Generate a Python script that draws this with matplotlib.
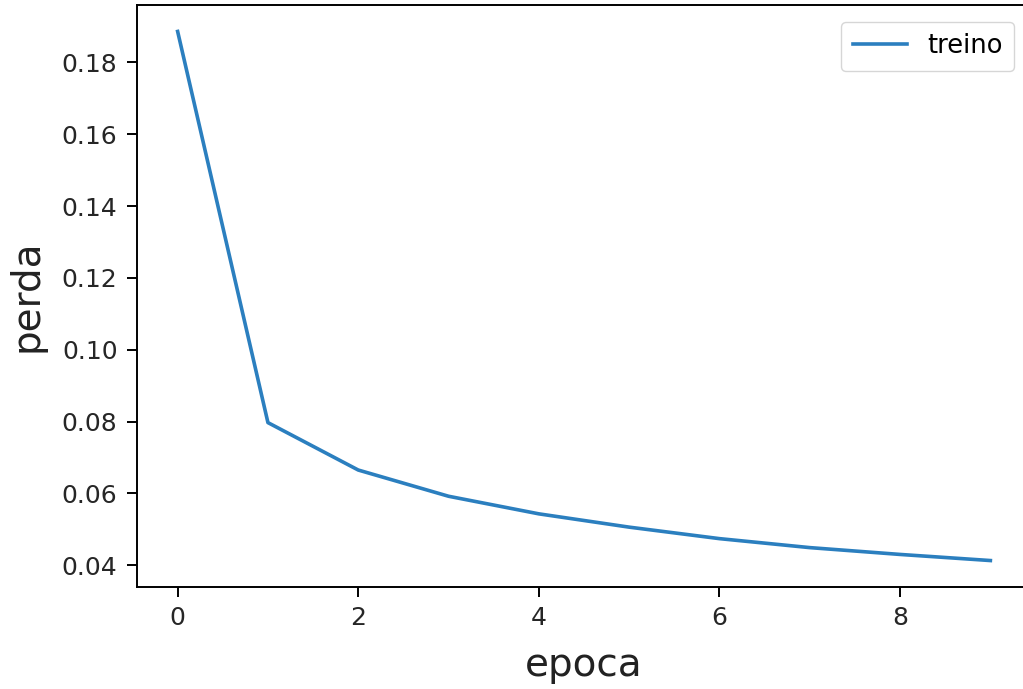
import matplotlib
matplotlib.use("Agg")
import matplotlib.pyplot as plt

epocas = list(range(10))
perda_treino = [0.1886, 0.0797, 0.0665, 0.0592, 0.0543, 0.0506, 0.0474, 0.0449, 0.0430, 0.0413]

fig = plt.figure(figsize=(10.23, 6.89), dpi=100)
# o eixo passa um pouco da borda direita, como no original recortado
ax = fig.add_axes([137 / 1023, 102 / 689, (1031 - 137) / 1023, (587 - 5) / 689])
ax.plot(epocas, perda_treino, color="#2b7fbf", lw=2.6, label="treino")
ax.set_xlabel("epoca", fontsize=28, labelpad=11, color="#222222")
ax.set_ylabel("perda", fontsize=28, labelpad=12, color="#222222")
ax.tick_params(labelsize=18, length=7, width=1.4, pad=7, labelcolor="#262626")
for s in ax.spines.values():
    s.set_linewidth(1.4)
ax.legend(fontsize=18.5, handlelength=2.1, borderaxespad=0.65, borderpad=0.45)

fig.savefig("out.png", dpi=100)
